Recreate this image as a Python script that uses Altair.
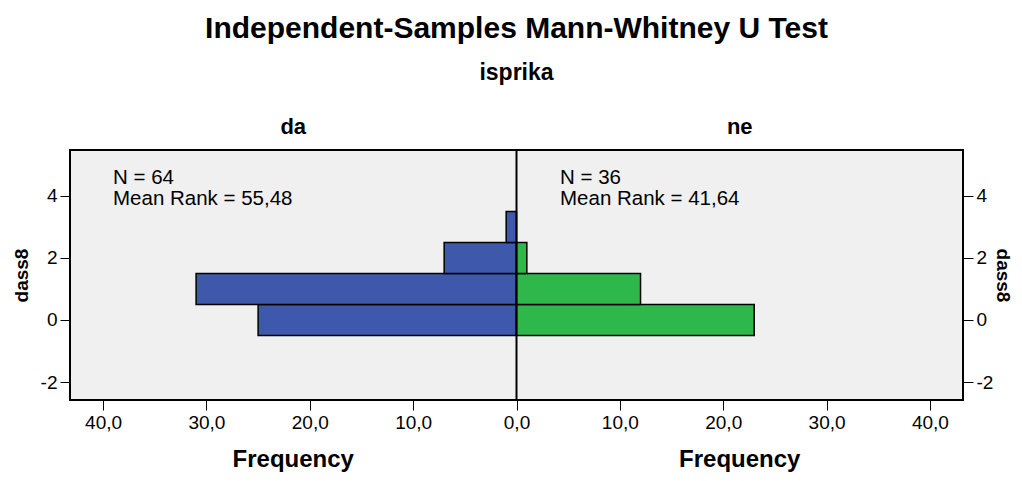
import altair as alt
import pandas as pd

# ---- data ----
groups = ["da", "ne"]
group_colors = ["#3E58AC", "#2EB84B"]
dass8_values = [0, 1, 2, 3]
da_freq = [25, 31, 7, 1]
ne_freq = [23, 12, 1, 0]
n_labels = ["N = 64", "N = 36"]
rank_labels = ["Mean Rank = 55,48", "Mean Rank = 41,64"]
title_text = "Independent-Samples Mann-Whitney U Test"
group_var = "isprika"
y_title = "dass8"
x_title = "Frequency"
x_ticks = [-40, -30, -20, -10, 0, 10, 20, 30, 40]
y_ticks = [-2, 0, 2, 4]

XMAX = 43.2
Y_DOMAIN = [-2.58, 5.48]
W, H = 893, 250
FONT = "Liberation Sans"

rows = []
for g, freqs in zip(groups, [da_freq, ne_freq]):
    for v, f in zip(dass8_values, freqs):
        if f > 0:
            rows.append({"group": g, "value": v, "freq": f})
df = pd.DataFrame(rows)

base = alt.Chart(df).transform_calculate(
    signed="datum.group == 'da' ? -datum.freq : datum.freq",
    lo="datum.value - 0.5",
    hi="datum.value + 0.5",
)

xscale = alt.Scale(domain=[-XMAX, XMAX], nice=False, zero=False)
yscale = alt.Scale(domain=Y_DOMAIN, nice=False, zero=False)


def y_axis(orient, pad):
    return alt.Axis(
        orient=orient,
        values=y_ticks,
        labelExpr="'' + datum.value",
        title=y_title,
        titleFont=FONT,
        titleFontSize=19,
        titleFontWeight="bold",
        titleColor="black",
        titlePadding=pad,
        domain=False,
        grid=False,
        tickColor="black",
        tickSize=10,
        labelPadding=3,
        labelFontSize=19,
        labelFont=FONT,
        labelColor="black",
    )


bars = base.mark_bar(stroke="black", strokeWidth=1.5).encode(
    x=alt.X(
        "signed:Q",
        scale=xscale,
        axis=alt.Axis(
            values=x_ticks,
            labelExpr="replace(format(abs(datum.value), '.1f'), '.', ',')",
            title=None,
            domain=False,
            grid=False,
            tickColor="black",
            tickSize=10,
            tickWidth=1,
            labelPadding=3,
            labelFontSize=19,
            labelFont=FONT,
            labelColor="black",
        ),
    ),
    x2=alt.datum(0),
    y=alt.Y("lo:Q", scale=yscale, axis=y_axis("left", 9)),
    y2="hi:Q",
    color=alt.Color(
        "group:N", scale=alt.Scale(domain=groups, range=group_colors), legend=None
    ),
)

right_axis = base.mark_bar(opacity=0).encode(
    y=alt.Y("lo:Q", scale=yscale, axis=y_axis("right", 0)),
    y2="hi:Q",
)

center = alt.Chart(pd.DataFrame({"c": [0]})).mark_rule(
    color="black", strokeWidth=2
).encode(x=alt.X("c:Q", scale=xscale))

# group annotations
ann = pd.DataFrame({"n": n_labels, "rank": rank_labels, "px": [43, 490]})
n_text = alt.Chart(ann).mark_text(
    align="left", baseline="alphabetic", font=FONT, fontSize=20.5, color="black"
).encode(x=alt.X("px:Q", scale=None), y=alt.value(34), text="n:N")
rank_text = alt.Chart(ann).mark_text(
    align="left", baseline="alphabetic", font=FONT, fontSize=20.5, color="black"
).encode(x=alt.X("px:Q", scale=None), y=alt.value(55), text="rank:N")

# headers and titles
hdr = pd.DataFrame({"g": groups, "cx": [W / 4, 3 * W / 4], "ft": [x_title, x_title]})
header_text = alt.Chart(hdr).mark_text(
    align="center", baseline="alphabetic", font=FONT, fontSize=22,
    fontWeight="bold", color="black"
).encode(x=alt.X("cx:Q", scale=None), y=alt.value(-16), text="g:N")
freq_text = alt.Chart(hdr).mark_text(
    align="center", baseline="alphabetic", font=FONT, fontSize=24,
    fontWeight="bold", color="black"
).encode(x=alt.X("cx:Q", scale=None), y=alt.value(317), text="ft:N")

ttl = pd.DataFrame({"t": [title_text], "s": [group_var]})
title_mark = alt.Chart(ttl).mark_text(
    align="center", baseline="alphabetic", font=FONT, fontSize=30,
    fontWeight="bold", color="black"
).encode(x=alt.value(W / 2), y=alt.value(-112), text="t:N")
sub_mark = alt.Chart(ttl).mark_text(
    align="center", baseline="alphabetic", font=FONT, fontSize=23,
    fontWeight="bold", color="black"
).encode(x=alt.value(W / 2), y=alt.value(-70), text="s:N")

chart = (
    alt.layer(
        bars, right_axis, center, n_text, rank_text, header_text, freq_text,
        title_mark, sub_mark
    )
    .resolve_axis(y="independent")
    .properties(
        width=W,
        height=H,
        autosize=alt.AutoSizeParams(type="none"),
        padding={"left": 62, "top": 142, "right": 51, "bottom": 73},
        background="white",
    )
    .configure_view(stroke="black", strokeWidth=2, fill="#F0F0F0")
)

chart.save("out.html", embed_options={"renderer": "svg", "actions": False})
